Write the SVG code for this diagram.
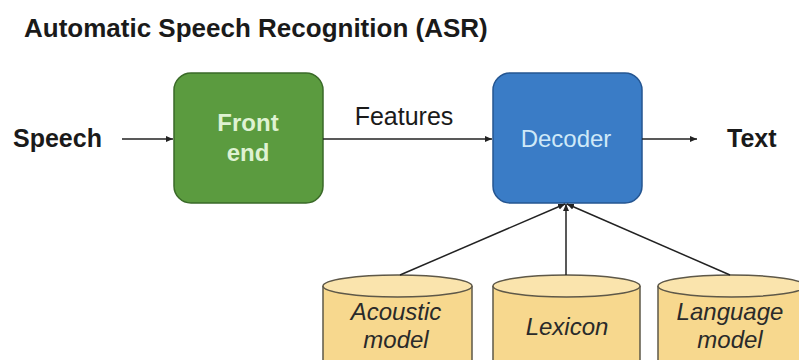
<svg xmlns="http://www.w3.org/2000/svg" width="799" height="360" viewBox="0 0 799 360">
<style>
.lbl{font-family:"Liberation Sans",Arial,sans-serif;font-weight:bold;fill:#1a1a1a;}
.box{font-family:"Liberation Sans",Arial,sans-serif;font-size:24px;text-anchor:middle;}
.db{font-family:"Liberation Sans",Arial,sans-serif;font-size:24px;font-style:italic;text-anchor:middle;fill:#2a2a2a;}
.cyl{fill:#f7d88e;stroke:#5e5848;stroke-width:1.5;}
.top{fill:#fae4ad;stroke:#5e5848;stroke-width:1.5;}
.conn{stroke:#222;stroke-width:1.5;fill:none;marker-end:url(#ah);}
</style>
<defs>
<marker id="ah" markerWidth="8" markerHeight="8" refX="7" refY="4" orient="auto" markerUnits="userSpaceOnUse">
<path d="M0,1 L7,4 L0,7 z" fill="#222"/>
</marker>
</defs>
<rect width="799" height="360" fill="#ffffff"/>
<text x="24" y="37" class="lbl" font-size="26">Automatic Speech Recognition (ASR)</text>
<g id="speech"><text x="13" y="147" class="lbl" font-size="25">Speech</text></g>
<g id="frontend">
<rect x="174" y="73" width="149" height="130" rx="17" fill="#5b9b3f" stroke="#3a6a28" stroke-width="1.5"/>
<text x="248" y="131" class="box" font-weight="bold" fill="#dff2d2">Front</text>
<text x="248" y="161" class="box" font-weight="bold" fill="#dff2d2">end</text>
</g>
<g id="decoder">
<rect x="493" y="73" width="149" height="130" rx="17" fill="#3a7cc6" stroke="#245591" stroke-width="1.5"/>
<text x="566" y="147" class="box" font-size="25" fill="#cfe9f8">Decoder</text>
</g>
<g id="text"><text x="727" y="147" class="lbl" font-size="25">Text</text></g>
<g id="acoustic">
<path class="cyl" d="M323,286 L323,370 L472,370 L472,286"/>
<ellipse class="top" cx="397.5" cy="286" rx="74.5" ry="11"/>
<text x="396" y="320" class="db">Acoustic</text>
<text x="396" y="348" class="db">model</text>
</g>
<g id="lexicon">
<path class="cyl" d="M493,286 L493,370 L640,370 L640,286"/>
<ellipse class="top" cx="566.5" cy="286" rx="73.5" ry="11"/>
<text x="567" y="335" class="db">Lexicon</text>
</g>
<g id="language">
<path class="cyl" d="M658,286 L658,370 L805,370 L805,286"/>
<ellipse class="top" cx="731.5" cy="286" rx="73.5" ry="11"/>
<text x="730" y="320" class="db">Language</text>
<text x="730" y="348" class="db">model</text>
</g>
<g id="connectors">
<line class="conn" x1="122" y1="139" x2="173" y2="139"/>
<line class="conn" x1="323" y1="139" x2="492" y2="139"/>
<text x="404" y="125" font-family="'Liberation Sans',Arial,sans-serif" font-size="25" text-anchor="middle" fill="#1a1a1a">Features</text>
<line class="conn" x1="642" y1="139" x2="697" y2="139"/>
<line class="conn" x1="400" y1="275" x2="565" y2="204"/>
<line class="conn" x1="566" y1="275" x2="566" y2="204"/>
<line class="conn" x1="730" y1="275" x2="567" y2="204"/>
</g>
</svg>
